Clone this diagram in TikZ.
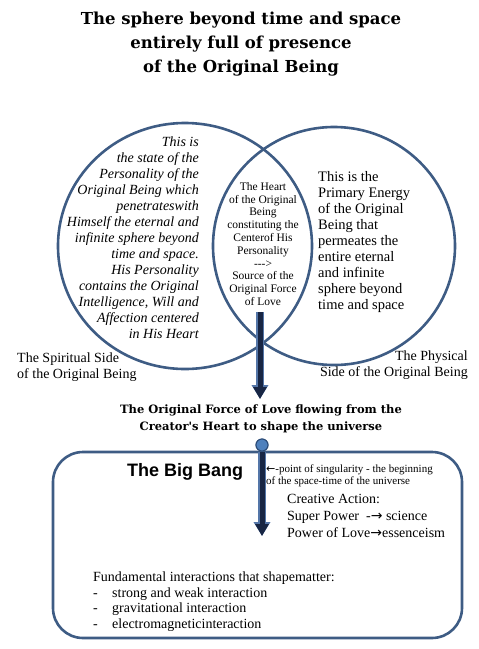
\documentclass[tikz,border=0pt]{standalone}
\usepackage{fontspec}
\setmainfont{Liberation Serif}
\newfontfamily\headfont{DejaVu Serif}
\newfontfamily\bangfont{Liberation Sans}
\newfontfamily\arrowfont{DejaVu Sans}
\usetikzlibrary{arrows.meta,positioning}
\definecolor{ringblue}{RGB}{62,92,132}
\definecolor{arrowdark}{RGB}{24,38,68}
\definecolor{arrowlight}{RGB}{84,118,168}
\definecolor{dotblue}{RGB}{79,129,189}
\definecolor{dotedge}{RGB}{44,76,120}
\newcommand{\lft}{{\arrowfont ←}}
\newcommand{\rgt}{{\arrowfont →}}
\tikzset{
  ring/.style={draw=ringblue, line width=2.6pt},
  bigarrow/.style={draw=arrowdark, line width=5pt, -{Triangle[length=12pt,width=13pt]},
    preaction={draw=arrowlight, line width=7.5pt, -{Triangle[length=14pt,width=16pt]}}},
  txt/.style={inner sep=0pt, font=\fontsize{14}{16}\selectfont},
}
\begin{document}
\begin{tikzpicture}[x=1pt,y=-1pt]
  \useasboundingbox (0,0) rectangle (479,649);
  % heading
  \node[inner sep=0pt, align=center, font=\headfont\bfseries\fontsize{16.5}{24}\selectfont] (title) at (241,44)
    {The sphere beyond time and space\\entirely full of presence\\of the Original Being};
  % the two sides
  \draw[ring] (185,246) ellipse [x radius=127, y radius=123];
  \draw[ring] (334,246) ellipse [x radius=121, y radius=119];
  \node[txt, anchor=east, align=right, font=\itshape\fontsize{14}{16}\selectfont] (spirit) at (199,238)
    {This is\\the state of the\\Personality of the\\Original Being which\\penetrateswith\\Himself the eternal and\\infinite sphere beyond\\time and space.\\His Personality\\contains the Original\\Intelligence, Will and\\Affection centered\\in His Heart};
  \node[txt, align=center, font=\fontsize{11.5}{12.8}\selectfont] (heart) at (263,244)
    {The Heart\\of the Original\\Being\\constituting the\\Centerof His\\Personality\\-{}-{}->\\Source of the\\Original Force\\of Love};
  \node[txt, anchor=west, align=left, font=\fontsize{14.5}{16}\selectfont] (energy) at (318,242)
    {This is the\\Primary Energy\\of the Original\\Being that\\permeates the\\entire eternal\\and infinite\\sphere beyond\\time and space};
  \node[txt, anchor=west, align=left] (spiritlbl) at (17,367)
    {The Spiritual Side\\of the Original Being};
  \node[txt, anchor=east, align=right] (physlbl) at (468,365)
    {The Physical\\Side of the Original Being};
  % force of love
  \coordinate (forcetop) at (260,312);
  \coordinate (forceend) at (260,399);
  \draw[bigarrow] (forcetop) -- (forceend);
  \node[inner sep=0pt, align=center, font=\headfont\bfseries\fontsize{11.5}{17}\selectfont] (force) at (261,419)
    {The Original Force of Love flowing from the\\Creator's Heart to shape the universe};
  % universe box
  \draw[draw=ringblue, line width=2.6pt, rounded corners=30pt] (53,452) rectangle (462,638);
  \node[circle, fill=dotblue, draw=dotedge, line width=1pt, minimum size=12pt, inner sep=0pt] (bang) at (262,445) {};
  \coordinate (bangend) at (262,536);
  \draw[bigarrow] (bang.south) -- (bangend);
  \node[circle, fill=dotblue, draw=dotedge, line width=1pt, minimum size=12pt, inner sep=0pt] at (bang) {};
  \node[inner sep=0pt, anchor=west, font=\bangfont\bfseries\fontsize{18}{20}\selectfont] (bigbang) at (127,472) {The Big Bang};
  \node[txt, anchor=west, align=left, font=\fontsize{11}{11.5}\selectfont] (single) at (266,476)
    {\lft-point of singularity - the beginning\\of the space-time of the universe};
  \node[txt, anchor=west, align=left, font=\fontsize{14}{17}\selectfont] (creative) at (287,516)
    {Creative Action:\\Super Power\ \ -\rgt\ science\\Power of Love\rgt essenceism};
  \node[txt, anchor=west, align=left, font=\fontsize{14}{15.6}\selectfont] (forces) at (93,601.5)
    {Fundamental interactions that shapematter:\\
     \makebox[19pt][l]{-}strong and weak interaction\\
     \makebox[19pt][l]{-}gravitational interaction\\
     \makebox[19pt][l]{-}electromagneticinteraction};
\end{tikzpicture}
\end{document}
